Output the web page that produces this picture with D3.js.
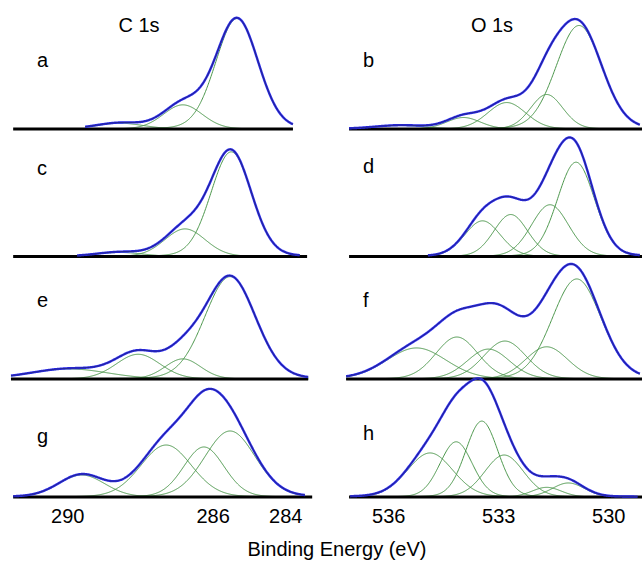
<!DOCTYPE html>
<html>
<head>
<meta charset="utf-8">
<script src="https://cdn.jsdelivr.net/npm/d3@7"></script>
<style>
  body { margin: 0; background: #fff; }
  svg { display: block; font-family: "Liberation Sans", Arial, sans-serif; }
</style>
</head>
<body>
<svg id="svg" width="642" height="561"></svg>
<script>
// panel letters, left column is C 1s, right column is O 1s
const panelLetters = ["a", "b", "c", "d", "e", "f", "g", "h"];
const columnTitles = ["C 1s", "O 1s"];
const cTicks = [290, 286, 284];
const oTicks = [536, 533, 530];

// fitted components per panel: [centre (eV), FWHM (eV), height (a.u.)]
const peaksA = [[285.33, 1.38, 0.96], [286.82, 1.27, 0.21], [288.55, 1.51, 0.05]];
const peaksB = [[530.80, 1.47, 0.90], [531.68, 1.04, 0.30], [532.77, 1.23, 0.23], [533.95, 1.09, 0.10], [535.68, 1.64, 0.03]];
const peaksC = [[285.49, 1.32, 0.91], [286.76, 1.32, 0.24], [288.55, 1.50, 0.035]];
const peaksD = [[530.88, 1.20, 0.82], [531.59, 1.20, 0.45], [532.66, 1.09, 0.365], [533.43, 1.15, 0.31]];
const peaksE = [[285.52, 1.65, 0.89], [286.82, 1.16, 0.175], [288.05, 1.43, 0.215], [289.93, 2.48, 0.087]];
const peaksF = [[530.86, 1.58, 0.87], [531.68, 1.36, 0.28], [532.82, 1.36, 0.33], [533.27, 1.36, 0.26], [534.13, 1.36, 0.365], [535.23, 1.91, 0.27]];
const peaksG = [[285.52, 1.65, 0.574], [286.24, 1.32, 0.435], [287.28, 1.65, 0.452], [289.60, 1.49, 0.191]];
const peaksH = [[533.45, 1.04, 0.66], [534.15, 1.04, 0.48], [534.86, 1.47, 0.383], [532.84, 1.25, 0.365], [531.68, 0.95, 0.084], [531.09, 1.04, 0.122]];

// measured energy window of each spectrum [high, low] (eV)
const dataRanges = [[289.51, 283.79], [537.07, 529.14], [289.73, 283.60], [534.92, 529.14],
                    [291.55, 283.37], [537.15, 529.14], [291.49, 283.46], [537.04, 529.20]];
// extent of the zero line under each panel [high, low] (eV)
const zeroLines = [[291.49, 283.79], [537.07, 529.08], [291.49, 283.40], [537.07, 529.08],
                   [291.55, 283.37], [537.15, 529.08], [291.49, 283.26], [537.07, 529.08]];

const allPeaks = [peaksA, peaksB, peaksC, peaksD, peaksE, peaksF, peaksG, peaksH];

let svg = d3.select("svg");
let rowBase = [129, 256.5, 379, 497];
let peakPx = 115;
let letterPos = [[37, 67], [363, 67], [37, 175], [363, 173], [37, 307], [363, 307], [37, 443], [363, 440]];

let xC = d3.scaleLinear().domain([290, 284]).range([67.3, 285.3]);
let xO = d3.scaleLinear().domain([536, 530]).range([388.3, 608.3]);

// pseudo-Voigt line shape, mostly gaussian
let eta = 0.08;
function component(e, p) {
  let u = (e - p[0]) / p[1];
  return p[2] * ((1 - eta) * Math.exp(-4 * Math.LN2 * u * u) + eta / (1 + 4 * u * u));
}

allPeaks.forEach((peaks, i) => {
  let col = i % 2, row = Math.floor(i / 2);
  let x = col == 0 ? xC : xO;
  let y = d3.scaleLinear().domain([0, 1]).range([rowBase[row], rowBase[row] - peakPx]);
  let g = svg.append("g");

  let [hi, lo] = dataRanges[i];
  let energies = d3.range(hi, lo, -0.015);
  energies.push(lo);

  let line = d3.line()
    .x(d => x(d.e))
    .y(d => y(d.v));

  // components
  peaks.forEach(p => {
    let pts = energies.map(e => ({ e, v: component(e, p) }));
    g.append("path")
      .datum(pts)
      .attr("fill", "none")
      .attr("stroke", "#4a964a")
      .attr("stroke-width", 1)
      .attr("d", line);
  });

  // zero line
  let z = zeroLines[i];
  g.append("line")
    .attr("x1", x(z[0])).attr("x2", x(z[1]))
    .attr("y1", y(0)).attr("y2", y(0))
    .attr("stroke", "#000")
    .attr("stroke-width", 3);

  // envelope: measured trace and fit
  let sum = energies.map(e => ({ e, v: d3.sum(peaks, p => component(e, p)) }));
  g.append("path")
    .datum(sum)
    .attr("fill", "none")
    .attr("stroke", "#2a2af0")
    .attr("stroke-width", 2.4)
    .attr("stroke-linejoin", "round")
    .attr("d", line);
  g.append("path")
    .datum(sum)
    .attr("fill", "none")
    .attr("stroke", "#222")
    .attr("stroke-opacity", 0.75)
    .attr("stroke-width", 0.7)
    .attr("d", line);

  svg.append("text")
    .attr("x", letterPos[i][0])
    .attr("y", letterPos[i][1])
    .attr("font-size", 20)
    .text(panelLetters[i]);

  if (row == 3) {
    let ax = svg.append("g")
      .attr("transform", "translate(0," + rowBase[row] + ")")
      .call(d3.axisBottom(x)
        .tickValues(col == 0 ? cTicks : oTicks)
        .tickFormat(d3.format("d"))
        .tickSize(0)
        .tickPadding(12));
    ax.select(".domain").remove();
    ax.selectAll("text")
      .attr("font-size", 20)
      .attr("font-family", "Liberation Sans, Arial, sans-serif")
      .attr("fill", "#000");
  }
});

svg.append("text").attr("x", 139).attr("y", 32).attr("text-anchor", "middle")
  .attr("font-size", 20).text(columnTitles[0]);
svg.append("text").attr("x", 492).attr("y", 32).attr("text-anchor", "middle")
  .attr("font-size", 20).text(columnTitles[1]);
svg.append("text").attr("x", 337).attr("y", 556).attr("text-anchor", "middle")
  .attr("font-size", 20).text("Binding Energy (eV)");
</script>
</body>
</html>
